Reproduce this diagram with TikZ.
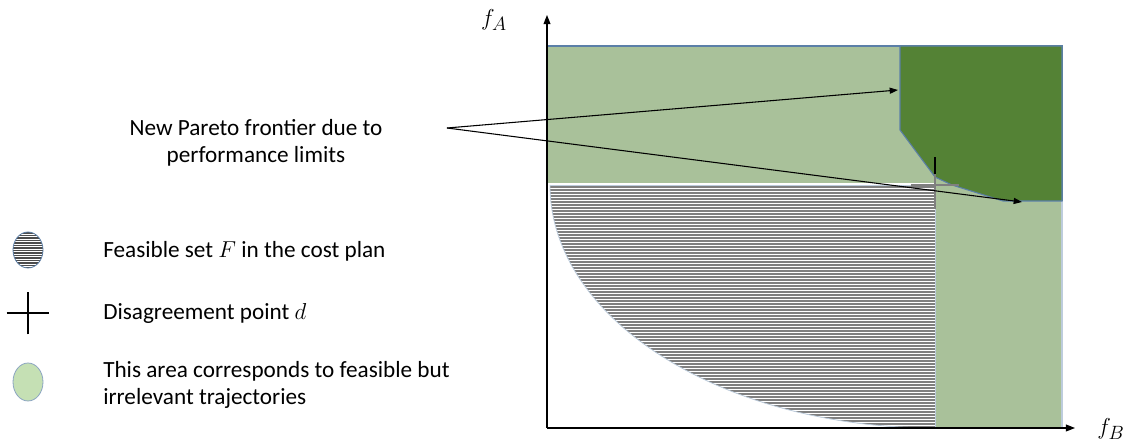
\documentclass[tikz,border=0pt]{standalone}
\usepackage{fontspec}
\setmainfont{Carlito}
\usetikzlibrary{arrows.meta}
\definecolor{paleg}{HTML}{A9C19A}
\definecolor{darkg}{HTML}{548235}
\definecolor{edgeb}{HTML}{5B7FA8}
\definecolor{hatch}{HTML}{7F7F7F}
\definecolor{legg}{HTML}{C5E0B4}
\newcommand{\txt}{\fontsize{17.4}{20}\selectfont}
\newcommand{\axl}{\fontsize{19}{21}\selectfont}

\begin{document}
\begin{tikzpicture}[x=0.75pt,y=0.75pt,
  lbl/.style={anchor=west,inner sep=0,font=\txt,align=left},
  ptr/.style={black,line width=0.8pt,-{Triangle[length=2.2mm,width=1.6mm]}},
  axis/.style={black,line width=0.9pt,-{Triangle[length=2.4mm,width=1.8mm]}}]
\useasboundingbox (0,0) rectangle (1133,443);
% irrelevant areas
\fill[paleg] (547,260) rectangle (1062,397);
\fill[paleg] (935,15) rectangle (1062,260);
\draw[edgeb!40,line width=0.8pt] (1062,15) -- (1062,242);
\draw[edgeb,line width=1pt] (547,397) -- (1062,397) -- (1062,242);
\fill[darkg,draw=edgeb,line width=0.8pt] (900,397) -- (900,313) -- (935,266) -- (952,258) -- (1003,242) -- (1062,242) -- (1062,397) -- cycle;
% feasible set
\begin{scope}
\clip (550,258) -- (935,258) -- (935,15) arc[start angle=270,end angle=180,x radius=385,y radius=243] -- cycle;
\foreach \yy in {16,19,...,258} \draw[hatch,line width=1.1pt] (550,\yy) -- (935,\yy);
\end{scope}
\draw[edgeb!40,line width=0.6pt] (550,258) -- (935,258) -- (935,15);
\draw[edgeb!40,line width=0.6pt] (935,15) arc[start angle=270,end angle=180,x radius=385,y radius=243];
% disagreement point
\coordinate (dpt) at (935,258);
\draw[hatch,line width=2.2pt] ([xshift=-18]dpt) -- ([xshift=18]dpt);
\draw[hatch,line width=2.2pt] ([yshift=-18]dpt) -- ([yshift=18]dpt);
\draw[black,line width=1.6pt] ([yshift=8]dpt) -- ([yshift=21]dpt);
% axes
\coordinate (orig) at (547,15);
\coordinate (ytip) at (547,428);
\coordinate (xtip) at (1075,15);
\draw[axis] (orig) -- (ytip);
\draw[axis] (orig) -- (xtip);
\node[font=\axl] (fA) at (494,423) {$f_A$};
\node[font=\axl] (fB) at (1111,14) {$f_B$};
% Pareto frontier label
\node[font=\txt,align=center] (pareto) at (256,300) {New Pareto frontier due to\\performance limits};
\coordinate (fork) at (447,315);
\coordinate (kneeA) at (898,353);
\coordinate (kneeB) at (1022,241);
\draw[ptr] (fork) -- (kneeA);
\draw[ptr] (fork) -- (kneeB);
% legend
\coordinate (legF) at (28,193);
\begin{scope}
\clip (legF) ellipse [x radius=15,y radius=18];
\fill[white] (legF) ellipse [x radius=15,y radius=18];
\foreach \dy in {-18,-15.5,...,18} \draw[hatch!60!black,line width=1.1pt] ([shift={(-16,\dy)}]legF) -- ([shift={(16,\dy)}]legF);
\end{scope}
\draw[edgeb,line width=0.6pt] (legF) ellipse [x radius=15,y radius=18];
\node[lbl] (feas) at (103,192) {Feasible set $F$ in the cost plan};
\coordinate (legD) at (28,130);
\draw[black,line width=2pt] ([xshift=-16]legD) -- ([xshift=16]legD);
\draw[black,line width=2pt] ([yshift=-16]legD) -- ([yshift=16]legD);
\node[lbl] (disag) at (103,130) {Disagreement point $d$};
\coordinate (legG) at (28,61);
\draw[legg,draw=edgeb!70,line width=0.6pt,fill=legg] (legG) ellipse [x radius=15,y radius=19];
\node[lbl] (irrel) at (103,58) {This area corresponds to feasible but\\irrelevant trajectories};
\end{tikzpicture}
\end{document}
